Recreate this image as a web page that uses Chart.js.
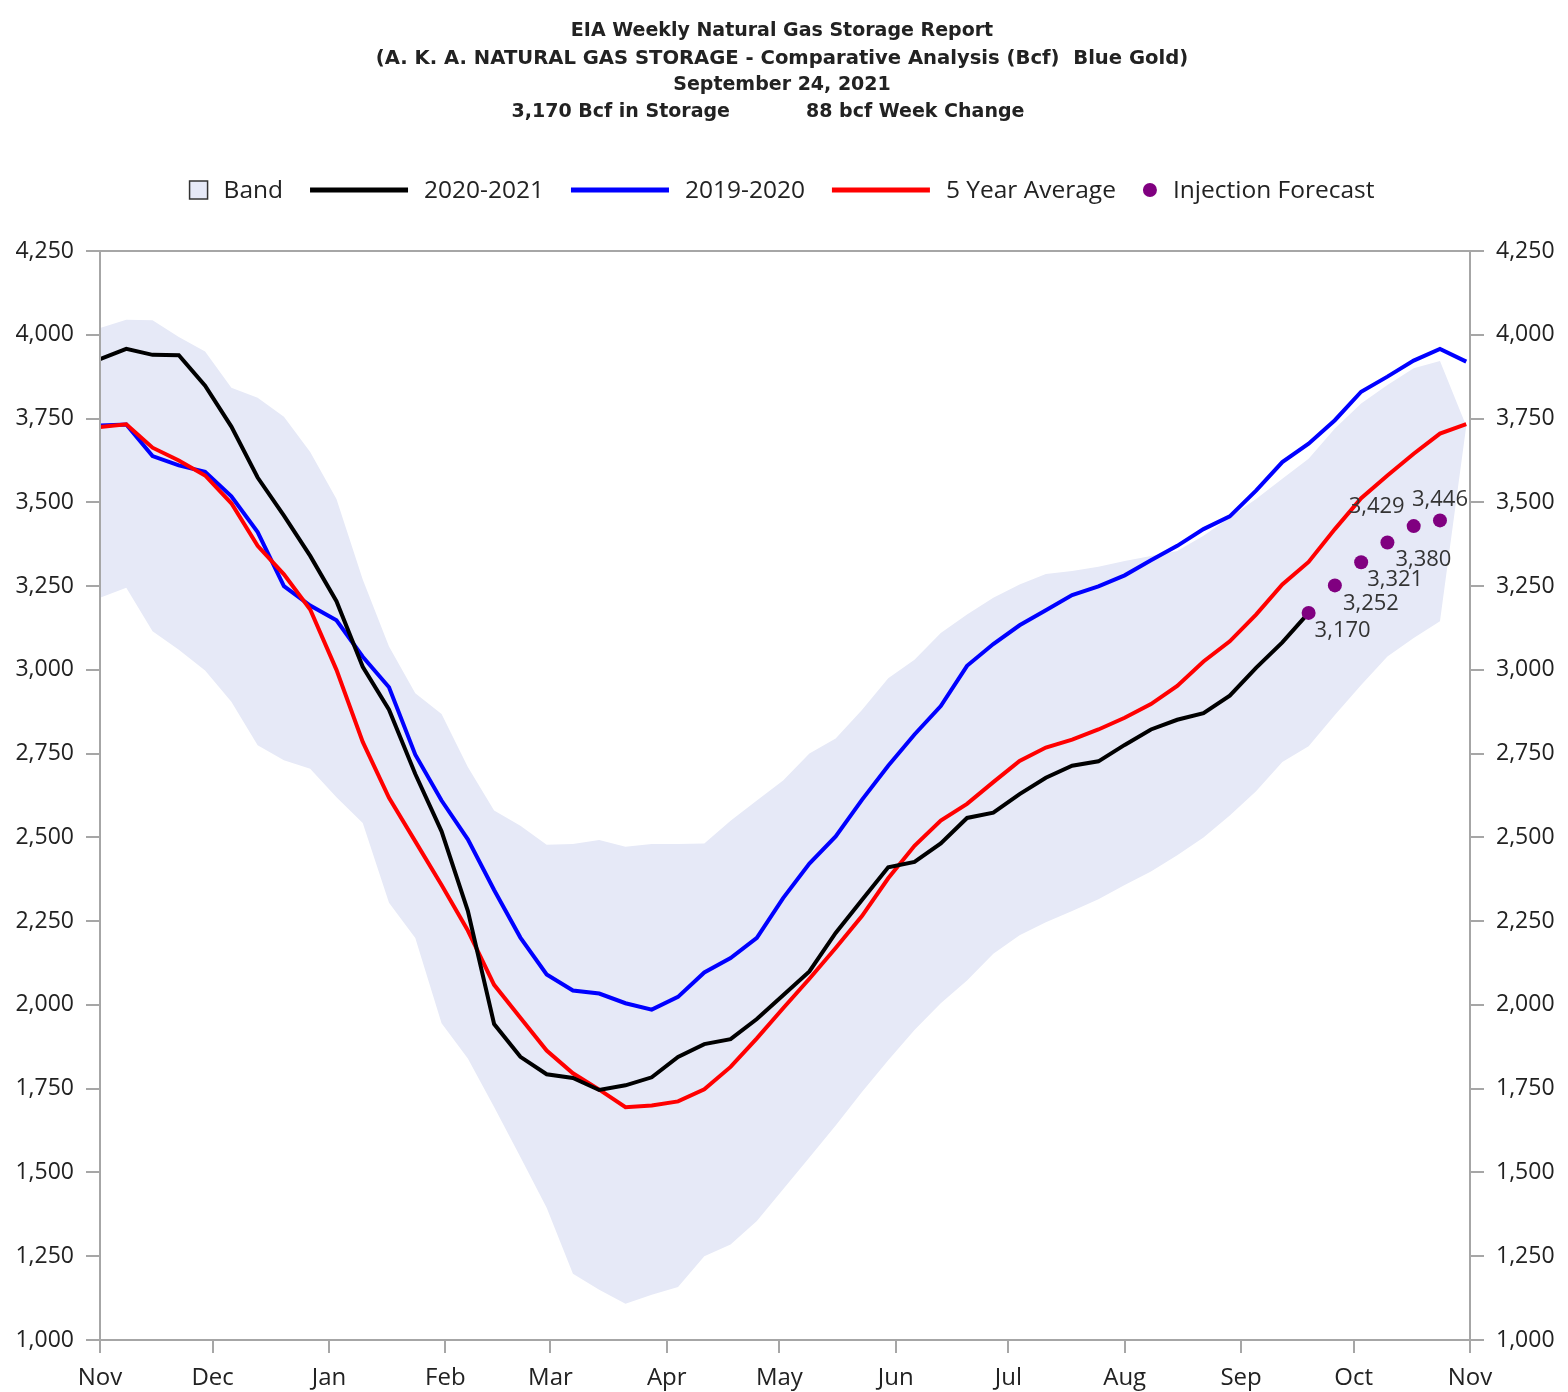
<!DOCTYPE html>
<html>
<head>
<meta charset="utf-8">
<title>EIA Weekly Natural Gas Storage Report</title>
<script src="https://cdn.jsdelivr.net/npm/chart.js@4.4.1/dist/chart.umd.min.js"></script>
<style>
  html, body { margin: 0; padding: 0; background: #fff; }
  #wrap { width: 1568px; height: 1392px; position: relative; }
</style>
</head>
<body>
<div id="wrap"><canvas id="storageChart"></canvas></div>
<script>
// x axis runs in days from Nov 1; one data point per week
const monthLabels = ['Nov', 'Dec', 'Jan', 'Feb', 'Mar', 'Apr', 'May', 'Jun', 'Jul', 'Aug', 'Sep', 'Oct', 'Nov'];
const monthStartDays = [0, 30, 61, 92, 120, 151, 181, 212, 242, 273, 304, 334, 365];
const weekDays = Array.from({ length: 53 }, (_, i) => i * 7);

// 5 year min / max band (Bcf)
const bandMax = [4020, 4045, 4043, 3993, 3950, 3842, 3812, 3755, 3650, 3510, 3270, 3070, 2930, 2868, 2710, 2580,
  2535, 2478, 2480, 2492, 2472, 2480, 2480, 2482, 2550, 2610, 2670, 2750, 2795, 2880, 2975, 3030, 3110, 3165,
  3215, 3255, 3286, 3295, 3308, 3325, 3340, 3355, 3400, 3455, 3510, 3570, 3630, 3720, 3795, 3850, 3900, 3922, 3728];
const bandMin = [3215, 3245, 3115, 3060, 2998, 2905, 2775, 2730, 2705, 2620, 2543, 2305, 2200, 1945, 1840, 1695,
  1546, 1395, 1198, 1150, 1108, 1135, 1158, 1250, 1285, 1355, 1450, 1545, 1640, 1740, 1835, 1925, 2005, 2073,
  2153, 2208, 2247, 2280, 2315, 2358, 2398, 2447, 2500, 2565, 2638, 2725, 2772, 2865, 2955, 3040, 3095, 3145, 3728];

const storage1920 = [3729, 3732, 3638, 3610, 3591, 3518, 3411, 3250, 3192, 3148, 3039, 2948, 2747, 2610, 2494, 2343,
  2201, 2091, 2043, 2034, 2005, 1986, 2024, 2097, 2140, 2200, 2319, 2422, 2503, 2612, 2714, 2807, 2892, 3012,
  3077, 3133, 3178, 3223, 3249, 3282, 3327, 3370, 3420, 3458, 3535, 3620, 3675, 3745, 3830, 3875, 3923, 3958, 3920];
const fiveYearAvg = [3725, 3733, 3663, 3625, 3580, 3497, 3370, 3285, 3180, 3000, 2785, 2618, 2488, 2358, 2222, 2060,
  1962, 1864, 1796, 1747, 1695, 1700, 1712, 1748, 1815, 1900, 1990, 2078, 2170, 2265, 2378, 2475, 2550, 2600,
  2665, 2728, 2768, 2792, 2822, 2857, 2898, 2952, 3025, 3085, 3165, 3255, 3322, 3420, 3512, 3580, 3645, 3705, 3733];
const storage2021 = [3927, 3958, 3940, 3939, 3848, 3726, 3574, 3460, 3340, 3205, 3009, 2881, 2689, 2518, 2281, 1943,
  1845, 1793, 1782, 1746, 1760, 1784, 1845, 1883, 1898, 1958, 2029, 2100, 2215, 2313, 2411, 2427, 2482, 2558,
  2574, 2629, 2678, 2714, 2727, 2776, 2822, 2851, 2871, 2923, 3006, 3082, 3170];

// injection forecast starts on the latest reported week
const forecastStartWeek = 46;
const forecast = [3170, 3252, 3321, 3380, 3429, 3446];

const reportDate = 'September 24, 2021';

const fmt = v => v.toLocaleString('en-US');
const toPoints = (vals, start = 0) => vals.map((v, i) => ({ x: weekDays[start + i], y: v }));

const BAND_COLOR = '#e6e9f7';
const AXIS_GRAY = '#a6a6a6';
const TEXT = '#222222';
const FONT = '"Open Sans", "DejaVu Sans", sans-serif';

// title, legend, frame and forecast labels
const decorPlugin = {
  id: 'decor',
  afterDraw(chart) {
    const { ctx, chartArea: a } = chart;
    const cx = (a.left + a.right) / 2 - 3;
    ctx.save();

    // frame round the plot
    ctx.strokeStyle = AXIS_GRAY;
    ctx.lineWidth = 2;
    ctx.strokeRect(a.left, a.top, a.right - a.left, a.bottom - a.top);

    // title block
    ctx.fillStyle = TEXT;
    ctx.textBaseline = 'middle';
    ctx.font = 'bold 19px "DejaVu Sans", sans-serif';
    ctx.textAlign = 'center';
    ctx.fillText('EIA Weekly Natural Gas Storage Report', cx, 31);
    ctx.font = 'bold 19.6px "DejaVu Sans", sans-serif';
    ctx.fillText('(A. K. A. NATURAL GAS STORAGE - Comparative Analysis (Bcf)  Blue Gold)', cx, 59);
    ctx.font = 'bold 19px "DejaVu Sans", sans-serif';
    ctx.fillText(reportDate, cx, 85);
    const latest = storage2021[storage2021.length - 1];
    const change = latest - storage2021[storage2021.length - 2];
    ctx.textAlign = 'right';
    ctx.fillText(`${fmt(latest)} Bcf in Storage`, cx - 52, 112);
    ctx.textAlign = 'left';
    ctx.fillText(`${change} bcf Week Change`, cx + 24, 112);

    // legend
    ctx.font = `24.5px ${FONT}`;
    const items = [
      { kind: 'box', w: 18, label: 'Band' },
      { kind: 'line', w: 98, color: '#000000', label: '2020-2021' },
      { kind: 'line', w: 98, color: '#0000ff', label: '2019-2020' },
      { kind: 'line', w: 98, color: '#ff0000', label: '5 Year Average' },
      { kind: 'dot', w: 14, color: '#800080', label: 'Injection Forecast' }
    ];
    const symGap = 16, itemGap = 27;
    let total = 0;
    items.forEach((it, i) => {
      it.tw = ctx.measureText(it.label).width;
      total += it.w + symGap + it.tw + (i < items.length - 1 ? itemGap : 0);
    });
    let x = cx - total / 2;
    const ly = 190;
    items.forEach(it => {
      if (it.kind === 'box') {
        ctx.fillStyle = BAND_COLOR;
        ctx.fillRect(x, ly - 9, it.w, 18);
        ctx.strokeStyle = '#333';
        ctx.lineWidth = 1.5;
        ctx.strokeRect(x, ly - 9, it.w, 18);
      } else if (it.kind === 'line') {
        ctx.strokeStyle = it.color;
        ctx.lineWidth = 5;
        ctx.beginPath();
        ctx.moveTo(x, ly);
        ctx.lineTo(x + it.w, ly);
        ctx.stroke();
      } else {
        ctx.fillStyle = it.color;
        ctx.beginPath();
        ctx.arc(x + it.w / 2, ly, 7, 0, Math.PI * 2);
        ctx.fill();
      }
      x += it.w + symGap;
      ctx.fillStyle = TEXT;
      ctx.textAlign = 'left';
      ctx.fillText(it.label, x, ly + 1);
      x += it.tw + itemGap;
    });

    // forecast value labels
    const meta = chart.getDatasetMeta(5);
    const spots = [['left', 6, 18], ['left', 8, 18], ['left', 6, 17], ['left', 8, 17], ['right', -9, -19], ['center', 0, -21]];
    ctx.font = `22px ${FONT}`;
    ctx.fillStyle = '#333';
    meta.data.forEach((pt, i) => {
      const [align, dx, dy] = spots[i];
      ctx.textAlign = align;
      ctx.fillText(fmt(forecast[i]), pt.x + dx, pt.y + dy);
    });
    ctx.restore();
  }
};

const yScale = position => ({
  position,
  min: 1000,
  max: 4250,
  afterFit: s => { s.width = position === 'left' ? 100 : 98; },
  grid: { drawOnChartArea: false, drawTicks: true, tickLength: 14, color: AXIS_GRAY, lineWidth: 2 },
  border: { display: false },
  ticks: {
    stepSize: 250,
    padding: 12,
    color: TEXT,
    font: { family: FONT, size: 23 },
    callback: v => fmt(v)
  }
});

new Chart(document.getElementById('storageChart'), {
  type: 'line',
  data: {
    datasets: [
      {
        label: 'Band',
        data: toPoints(bandMax),
        borderWidth: 0,
        pointRadius: 0,
        backgroundColor: BAND_COLOR,
        fill: '+1',
        order: 5
      },
      {
        label: 'Band low',
        data: toPoints(bandMin),
        borderWidth: 0,
        pointRadius: 0,
        fill: false,
        order: 4
      },
      {
        label: '2019-2020',
        data: toPoints(storage1920),
        borderColor: '#0000ff',
        borderWidth: 4,
        pointRadius: 0,
        fill: false,
        order: 3
      },
      {
        label: '5 Year Average',
        data: toPoints(fiveYearAvg),
        borderColor: '#ff0000',
        borderWidth: 4,
        pointRadius: 0,
        fill: false,
        order: 2
      },
      {
        label: '2020-2021',
        data: toPoints(storage2021),
        borderColor: '#000000',
        borderWidth: 4,
        pointRadius: 0,
        fill: false,
        order: 1
      },
      {
        label: 'Injection Forecast',
        data: toPoints(forecast, forecastStartWeek),
        showLine: false,
        pointRadius: 7,
        pointBackgroundColor: '#800080',
        pointBorderWidth: 0,
        fill: false,
        order: 0
      }
    ]
  },
  options: {
    responsive: true,
    maintainAspectRatio: false,
    animation: false,
    devicePixelRatio: 1,
    layout: { padding: { top: 251, left: 0, right: 0, bottom: 0 } },
    plugins: {
      legend: { display: false },
      title: { display: false },
      tooltip: { enabled: false }
    },
    scales: {
      x: {
        type: 'linear',
        min: 0,
        max: 365,
        afterBuildTicks: s => { s.ticks = monthStartDays.map(v => ({ value: v })); },
        afterFit: s => { s.height = 52; },
        grid: { drawOnChartArea: false, drawTicks: true, tickLength: 13, color: AXIS_GRAY, lineWidth: 2 },
        border: { display: false },
        ticks: {
          autoSkip: false,
          maxRotation: 0,
          padding: 11,
          color: TEXT,
          font: { family: FONT, size: 24 },
          callback: (v, i) => monthLabels[i]
        }
      },
      y: yScale('left'),
      y2: yScale('right')
    }
  },
  plugins: [decorPlugin]
});
</script>
</body>
</html>
